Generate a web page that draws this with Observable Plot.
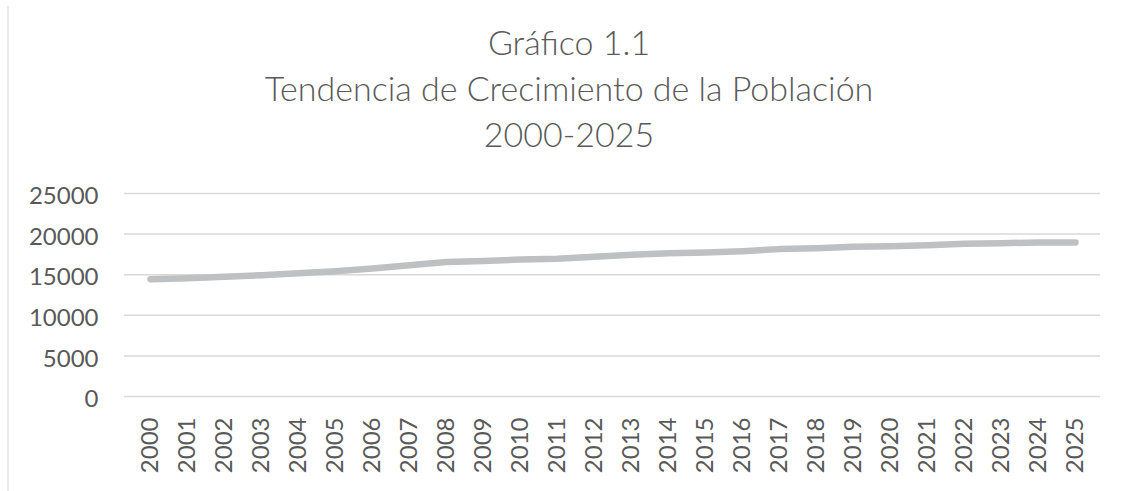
<!DOCTYPE html>
<html>
<head>
<meta charset="utf-8">
<script src="https://cdn.jsdelivr.net/npm/d3@7"></script>
<script src="https://cdn.jsdelivr.net/npm/@observablehq/plot@0.6"></script>
<style>
  html, body { margin: 0; padding: 0; background: #fff; }
  #wrap { position: relative; width: 1130px; height: 491px; overflow: hidden; }
  #frame { position: absolute; left: 7px; top: 6px; width: 2px; height: 485px; background: #ececec; }
  #title { position: absolute; left: 4px; top: 19px; width: 1130px; text-align: center;
           font-family: Lato, sans-serif; font-weight: 300; font-size: 34px; line-height: 46px; color: #595959; }
  #chart { position: absolute; left: 0; top: 170px; }
</style>
</head>
<body>
<div id="wrap">
  <div id="frame"></div>
  <div id="title">Gráfico 1.1<br>Tendencia de Crecimiento de la Población<br>2000-2025</div>
  <div id="chart"></div>
</div>
<script>
const years = ["2000","2001","2002","2003","2004","2005","2006","2007","2008","2009","2010","2011","2012",
               "2013","2014","2015","2016","2017","2018","2019","2020","2021","2022","2023","2024","2025"];
const population = [14450,14570,14740,14940,15190,15430,15760,16170,16560,16700,16870,16950,17200,
                    17450,17650,17730,17900,18150,18250,18430,18500,18630,18800,18880,18970,18970];
const yTicks = [0,5000,10000,15000,20000,25000];

const data = years.map((y, i) => ({year: y, value: population[i]}));

const chart = Plot.plot({
  width: 1130,
  height: 321,
  marginTop: 23,
  marginBottom: 95,
  marginLeft: 124,
  marginRight: 30,
  style: {fontFamily: "Lato, sans-serif", fontSize: "24px", color: "#595959", background: "transparent"},
  x: {type: "point", domain: years, padding: 0, range: [143, 1081], label: null},
  y: {domain: [0, 25000], ticks: yTicks, label: null},
  marks: [
    Plot.gridY(yTicks, {stroke: "#d9d9d9", strokeOpacity: 1, strokeWidth: 1.5}),
    Plot.axisY({ticks: yTicks, tickSize: 0, tickPadding: 26, tickFormat: d => String(d), dy: 3}),
    Plot.axisX({tickSize: 0, tickPadding: 21, tickRotate: -90}),
    Plot.line(data, {x: "year", y: "value", stroke: "#bfc0c2", strokeWidth: 6.5, strokeLinecap: "round", strokeLinejoin: "round"})
  ]
});
document.getElementById("chart").appendChild(chart);
</script>
</body>
</html>
